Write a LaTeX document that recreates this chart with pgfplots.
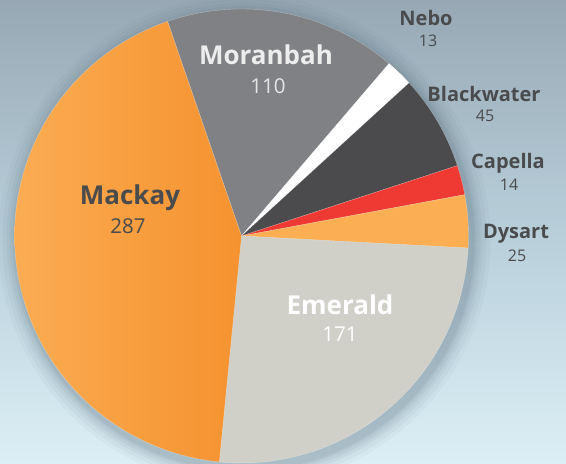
\documentclass[border=0pt]{standalone}
\usepackage{pgfplots}
\pgfplotsset{compat=1.18}
\usepackage{fontspec}
\setmainfont{Open Sans}
\definecolor{bgtop}{HTML}{97A8B4}
\definecolor{bgmid}{HTML}{B8CFDA}
\definecolor{bgbot}{HTML}{DCEFF6}
\definecolor{mackL}{HTML}{FBAC52}
\definecolor{mackR}{HTML}{F5922F}
\definecolor{moran}{HTML}{808184}
\definecolor{nebo}{HTML}{FFFFFF}
\definecolor{black2}{HTML}{4B4B4D}
\definecolor{capella}{HTML}{EE3A33}
\definecolor{dysart}{HTML}{FBAF52}
\definecolor{emerald}{HTML}{D0D0C8}
\definecolor{txt}{HTML}{4A4B4D}
\definecolor{shadowc}{HTML}{4F6472}
% values (plain numbers)
\def\vMoranbah{110}
\def\vNebo{13}
\def\vBlackwater{45}
\def\vCapella{14}
\def\vDysart{25}
\def\vEmerald{171}
\def\vMackay{287}
\pgfmathsetmacro\total{\vMoranbah+\vNebo+\vBlackwater+\vCapella+\vDysart+\vEmerald+\vMackay}
\pgfmathsetmacro\aA{109}
\pgfmathsetmacro\aB{\aA-\vMoranbah/\total*360}
\pgfmathsetmacro\aC{\aB-\vNebo/\total*360}
\pgfmathsetmacro\aD{\aC-\vBlackwater/\total*360}
\pgfmathsetmacro\aE{\aD-\vCapella/\total*360}
\pgfmathsetmacro\aF{\aE-\vDysart/\total*360}
\pgfmathsetmacro\aG{\aF-\vEmerald/\total*360}
\pgfmathsetmacro\aH{\aG-\vMackay/\total*360}
\newcommand{\slice}[3]{%
  \addplot[draw=white, draw opacity=0.35, line width=0.4bp, #3, data cs=polar, domain=#2:#1, samples=80] ({x},{227}) -- (axis cs:0,0) -- cycle;
}
\newcommand{\bigf}{\fontsize{26bp}{28bp}\selectfont\bfseries}
\newcommand{\bignum}{\fontsize{20.5bp}{23bp}\selectfont}
\newcommand{\smf}{\fontsize{20bp}{23bp}\selectfont\bfseries}
\newcommand{\smnum}{\fontsize{16bp}{18bp}\selectfont}
\begin{document}
\begin{tikzpicture}
\begin{axis}[hide axis, scale only axis, width=566bp, height=464bp,
  xmin=-241.5, xmax=324.5, ymin=-228, ymax=236, clip=true]
\fill[top color=bgtop, bottom color=bgbot, middle color=bgmid] (axis cs:-241.5,-228) rectangle (axis cs:324.5,236);
\fill[shadowc, opacity=0.04] (axis cs:3,-5) circle[radius=246bp];
\fill[shadowc, opacity=0.05] (axis cs:3,-5) circle[radius=242bp];
\fill[shadowc, opacity=0.06] (axis cs:3,-5) circle[radius=238bp];
\fill[shadowc, opacity=0.07] (axis cs:3,-5) circle[radius=235bp];
\fill[shadowc, opacity=0.08] (axis cs:3,-5) circle[radius=232bp];
\fill[shadowc, opacity=0.09] (axis cs:3,-5) circle[radius=230bp];
\slice{\aA}{\aB}{fill=moran}
\slice{\aB}{\aC}{fill=nebo}
\slice{\aC}{\aD}{fill=black2}
\slice{\aD}{\aE}{fill=capella}
\slice{\aE}{\aF}{fill=dysart}
\slice{\aF}{\aG}{fill=emerald}
\slice{\aG}{\aH}{left color=mackL, right color=mackR}
\node[text=white!93!black] at (axis cs:24.5,181) {\bigf Moranbah};
\node[text=white!90!black] at (axis cs:26.5,150) {\bignum 110};
\node[text=white] at (axis cs:98.5,-69) {\bigf Emerald};
\node[text=white] at (axis cs:98.5,-98) {\bignum 171};
\node[text=txt] at (axis cs:-111.5,38) {\bigf Mackay};
\node[text=txt] at (axis cs:-113.5,10) {\bignum 287};
\node[text=txt] at (axis cs:184.5,218) {\smf Nebo};
\node[text=txt] at (axis cs:186.5,195) {\smnum 13};
\node[text=txt] at (axis cs:242.5,142) {\smf Blackwater};
\node[text=txt] at (axis cs:243.5,120) {\smnum 45};
\node[text=txt] at (axis cs:266.5,73) {\smf Capella};
\node[text=txt] at (axis cs:267.5,51) {\smnum 14};
\node[text=txt] at (axis cs:274.5,2) {\smf Dysart};
\node[text=txt] at (axis cs:275.5,-20) {\smnum 25};
\end{axis}
\end{tikzpicture}
\end{document}
